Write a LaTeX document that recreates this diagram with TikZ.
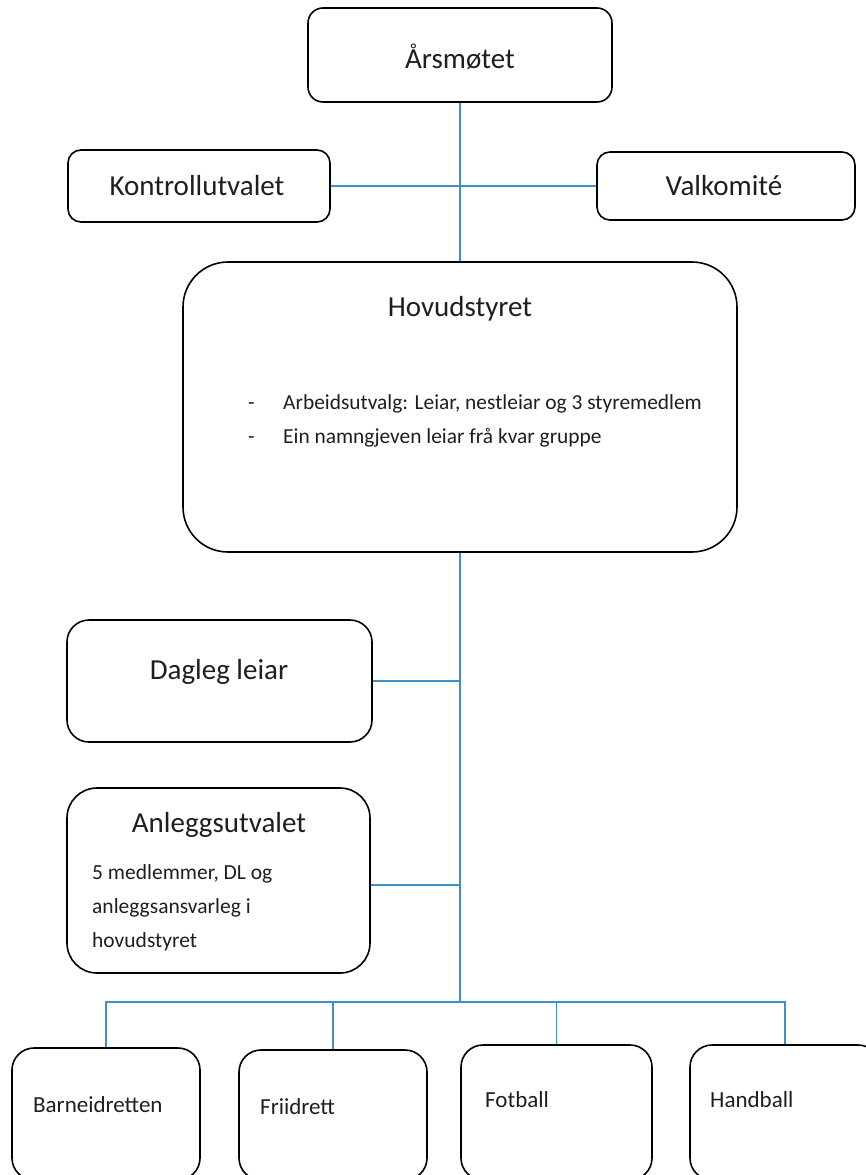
\documentclass[tikz,border=0pt]{standalone}
\usepackage{fontspec}
\setmainfont{Carlito}
\definecolor{linkblue}{RGB}{60,145,205}
\definecolor{ink}{RGB}{30,30,30}
\tikzset{
  box/.style={draw=black, line width=1.6pt, inner sep=0pt, rectangle},
  link/.style={draw=linkblue, line width=1.2pt},
  title/.style={text=ink, font=\fontsize{29}{33}\selectfont, inner sep=0pt},
  small/.style={text=ink, font=\fontsize{23}{27}\selectfont, inner sep=0pt, anchor=west},
}
\begin{document}
\begin{tikzpicture}[x=1pt,y=-1pt]
\useasboundingbox (0,0) rectangle (866,1175);
% boxes
\node[box, rounded corners=15pt, minimum width=304pt, minimum height=94pt] (ars) at (460,55) {};
\node[box, rounded corners=13pt, minimum width=262pt, minimum height=72pt] (kon) at (199,186) {};
\node[box, rounded corners=13pt, minimum width=258pt, minimum height=68pt] (val) at (726,186) {};
\node[box, rounded corners=45pt, minimum width=554pt, minimum height=290pt] (hov) at (460,407) {};
\node[box, rounded corners=22pt, minimum width=305pt, minimum height=122pt] (dag) at (219.5,681) {};
\node[box, rounded corners=30pt, minimum width=303pt, minimum height=185pt] (anl) at (218.5,880.5) {};
\node[box, rounded corners=22pt, minimum width=188pt, minimum height=132pt] (bar) at (106,1114) {};
\node[box, rounded corners=22pt, minimum width=188pt, minimum height=130pt] (fri) at (333,1115) {};
\node[box, rounded corners=22pt, minimum width=191pt, minimum height=135pt] (fot) at (556.5,1112.5) {};
\node[box, rounded corners=22pt, minimum width=190pt, minimum height=135pt] (han) at (785,1112.5) {};
% texts
\node[title] (arsT) at (460,57) {Årsmøtet};
\node[title] (konT) at (197,186) {Kontrollutvalet};
\node[title] (valT) at (724,186) {Valkomité};
\node[title] (hovT) at (460,309) {Hovudstyret};
\node[text=ink, font=\fontsize{21.4}{34}\selectfont, inner sep=0pt, anchor=north west, align=left] (hovL) at (248,394)
  {\makebox[35pt][l]{-}Arbeidsutvalg: Leiar, nestleiar og 3 styremedlem\\
   \makebox[35pt][l]{-}Ein namngjeven leiar frå kvar gruppe};
\node[title] (dagT) at (219,672) {Dagleg leiar};
\node[title] (anlT) at (219,825) {Anleggsutvalet};
\node[text=ink, font=\fontsize{21.5}{34}\selectfont, inner sep=0pt, anchor=north west, align=left] (anlL) at (92,864)
  {5 medlemmer, DL og\\anleggsansvarleg i\\hovudstyret};
\node[small] (barT) at (33,1105) {Barneidretten};
\node[small] (friT) at (260,1107) {Friidrett};
\node[small] (fotT) at (485,1100) {Fotball};
\node[small] (hanT) at (710,1100) {Handball};
% connectors
\coordinate (bus) at (460,1002);
\draw[link] (ars.south) -- (hov.north);
\draw[link] (kon.east) -- (kon.east -| ars.south);
\draw[link] (val.west) -- (val.west -| ars.south);
\draw[link] (hov.south) -- (bus);
\draw[link] (dag.east) -- (dag.east -| hov.south);
\draw[link] ([yshift=-4.5pt]anl.east) -- ([yshift=-4.5pt]anl.east -| hov.south);
\draw[link] (bar.north) |- (bus) -| (han.north);
\draw[link] (bus -| fri.north) -- (fri.north);
\draw[link] (bus -| fot.north) -- (fot.north);
\end{tikzpicture}
\end{document}
